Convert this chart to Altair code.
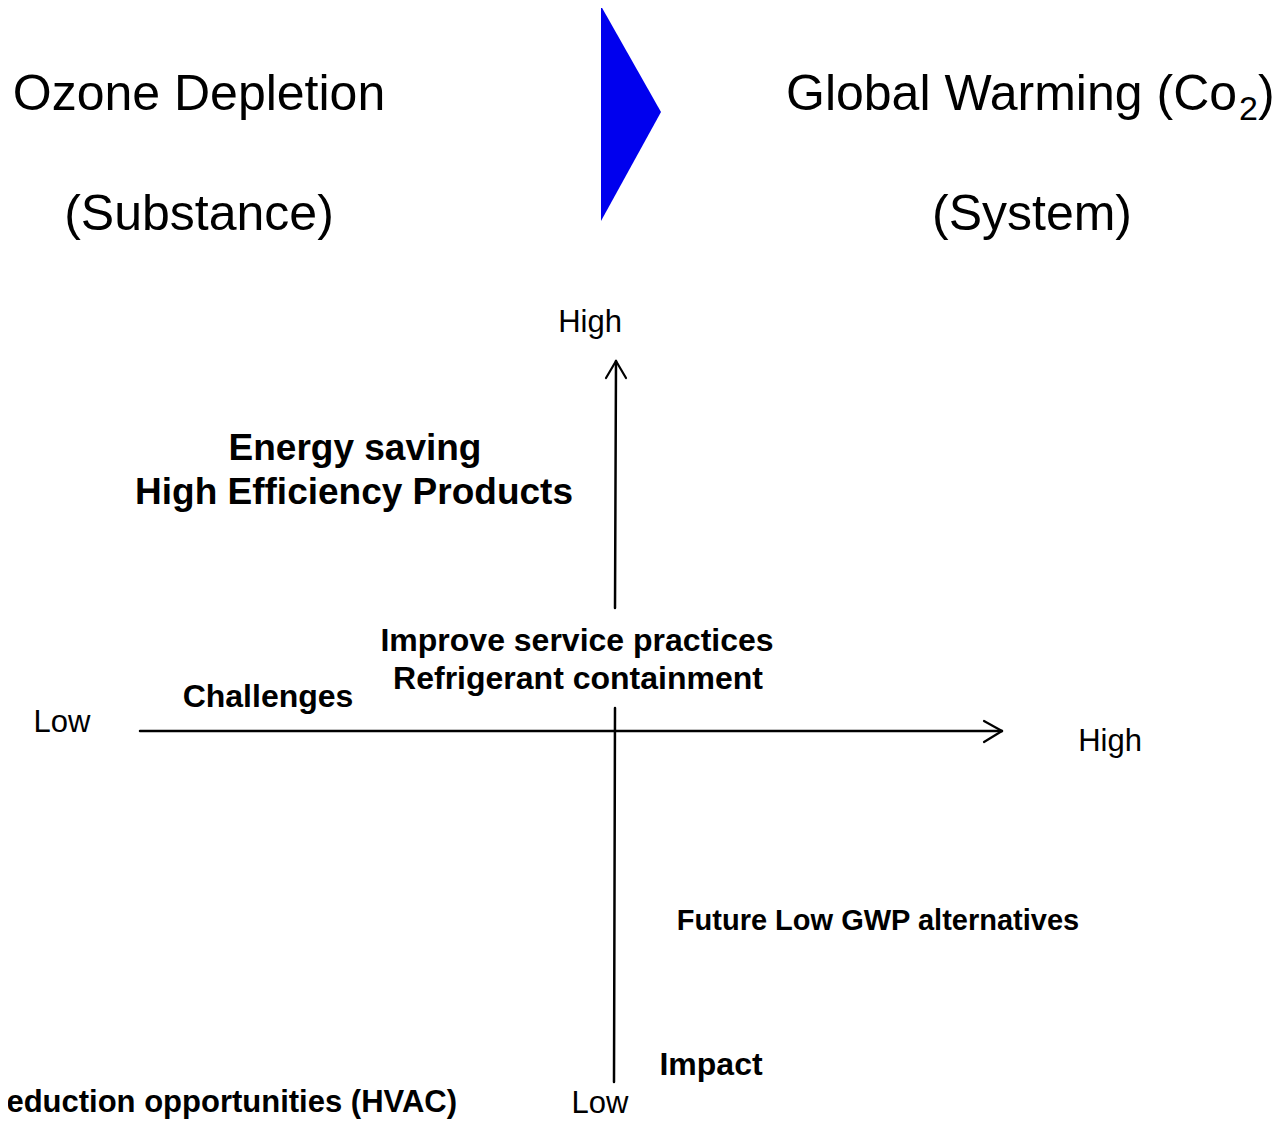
import altair as alt
import pandas as pd

FONT = "Liberation Sans"

# Blue direction triangle (left edge top/bottom, tip)
tri_x = [601, 661]
tri_top = [6, 112]
tri_bottom = [221, 112]

# Axis segments: x1, y1, x2, y2
seg_x1 = [140, 984, 984, 615, 606, 626, 615]
seg_y1 = [731, 721, 742, 608, 378, 378, 708]
seg_x2 = [1002, 1002, 1002, 616, 616, 616, 614]
seg_y2 = [731, 731, 731, 361, 361, 361, 1082]
seg_w = [2.5, 2.2, 2.2, 2.5, 2.2, 2.2, 2.5]

# Plain texts
n_label = ["Ozone Depletion", "(Substance)", "(System)", "High", "Low", "High", "Low"]
n_x = [199, 199, 1032, 590, 62, 1110, 600]
n_y = [110, 230, 230, 332, 732, 751, 1113]
n_size = [50, 50, 50, 31, 31, 31, 31]

# Left-aligned title pieces (with subscript)
l_label = ["Global Warming (Co", "2", ")"]
l_x = [786, 1239, 1258]
l_y = [110, 120, 110]
l_size = [50, 34, 50]

# Bold texts
b_label = ["Energy saving", "High Efficiency Products", "Improve service practices",
           "Refrigerant containment", "Challenges", "Future Low GWP alternatives", "Impact"]
b_x = [355, 354, 577, 578, 268, 878, 711]
b_y = [460, 504, 651, 689, 707, 930, 1075]
b_size = [37, 37, 32, 32, 32, 29, 32]

# Bold right-aligned text (cut at left edge, as in the reference)
r_label = ["Reduction opportunities (HVAC)"]
r_x = [457]
r_y = [1112]
r_size = [31]

xs = alt.Scale(domain=[8, 1274], nice=False, zero=False)
ys = alt.Scale(domain=[8, 1120], nice=False, zero=False, reverse=True)

tri_df = pd.DataFrame({"x": tri_x, "y": tri_top, "y2": tri_bottom})
tri = alt.Chart(tri_df).mark_area(color="#0000EE", orient="vertical", opacity=1).encode(
    x=alt.X("x:Q", scale=xs, axis=None),
    y=alt.Y("y:Q", scale=ys, axis=None),
    y2="y2:Q",
)

seg_df = pd.DataFrame({"x": seg_x1, "y": seg_y1, "x2": seg_x2, "y2": seg_y2, "w": seg_w})
segs = alt.Chart(seg_df).mark_rule(color="black", strokeCap="round").encode(
    x=alt.X("x:Q", scale=xs, axis=None),
    y=alt.Y("y:Q", scale=ys, axis=None),
    x2="x2:Q",
    y2="y2:Q",
    strokeWidth=alt.StrokeWidth("w:Q", scale=None, legend=None),
)


def text_layer(labels, x, y, size, align, weight):
    df = pd.DataFrame({"label": labels, "x": x, "y": y, "s": size})
    return alt.Chart(df).mark_text(
        align=align, baseline="alphabetic", font=FONT, fontWeight=weight, color="black"
    ).encode(
        x=alt.X("x:Q", scale=xs, axis=None),
        y=alt.Y("y:Q", scale=ys, axis=None),
        text="label:N",
        size=alt.Size("s:Q", scale=None, legend=None),
    )


chart = alt.layer(
    tri,
    segs,
    text_layer(n_label, n_x, n_y, n_size, "center", "normal"),
    text_layer(l_label, l_x, l_y, l_size, "left", "normal"),
    text_layer(b_label, b_x, b_y, b_size, "center", "bold"),
    text_layer(r_label, r_x, r_y, r_size, "right", "bold"),
).properties(
    width=1266, height=1112, padding=0,
    autosize=alt.AutoSizeParams(type="none"),
    background="white",
).configure_view(stroke=None)

chart.save("out.html", embed_options={"renderer": "svg", "actions": False})
